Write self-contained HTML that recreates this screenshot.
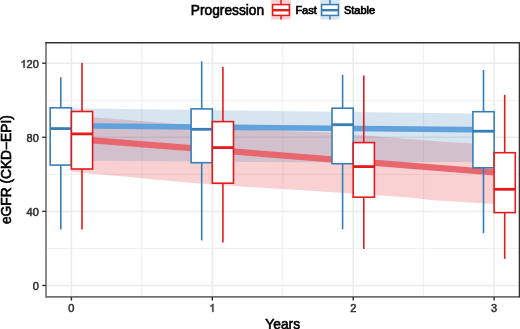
<!DOCTYPE html><html><head><meta charset="utf-8"><style>
html,body{margin:0;padding:0;background:#fff;width:520px;height:329px;overflow:hidden}
svg{display:block;filter:blur(0.3px)}
text{font-family:"Liberation Sans",sans-serif}
</style></head><body>
<svg width="520" height="329" viewBox="0 0 520 329">
<rect width="520" height="329" fill="#fff"/>
<g stroke="#ebebeb" fill="none">
<line x1="141.85" y1="42.8" x2="141.85" y2="296.9" stroke-width="0.8"/>
<line x1="282.75" y1="42.8" x2="282.75" y2="296.9" stroke-width="0.8"/>
<line x1="423.65" y1="42.8" x2="423.65" y2="296.9" stroke-width="0.8"/>
<line x1="46.0" y1="248.45" x2="519.4" y2="248.45" stroke-width="0.8"/>
<line x1="46.0" y1="174.35" x2="519.4" y2="174.35" stroke-width="0.8"/>
<line x1="46.0" y1="100.25" x2="519.4" y2="100.25" stroke-width="0.8"/>
<line x1="71.40" y1="42.8" x2="71.40" y2="296.9" stroke-width="1.5"/>
<line x1="212.30" y1="42.8" x2="212.30" y2="296.9" stroke-width="1.5"/>
<line x1="353.20" y1="42.8" x2="353.20" y2="296.9" stroke-width="1.5"/>
<line x1="494.10" y1="42.8" x2="494.10" y2="296.9" stroke-width="1.5"/>
<line x1="46.0" y1="285.50" x2="519.4" y2="285.50" stroke-width="1.5"/>
<line x1="46.0" y1="211.40" x2="519.4" y2="211.40" stroke-width="1.5"/>
<line x1="46.0" y1="137.30" x2="519.4" y2="137.30" stroke-width="1.5"/>
<line x1="46.0" y1="63.20" x2="519.4" y2="63.20" stroke-width="1.5"/>
</g>
<polygon points="71.40,116.20 95.00,117.50 125.00,119.70 190.00,125.00 235.00,128.70 290.00,131.00 330.00,132.60 374.00,136.30 440.00,141.40 472.00,143.40 494.10,144.90 494.10,204.00 470.00,202.60 430.00,200.00 412.00,197.80 380.00,195.50 330.00,191.90 290.00,189.60 240.00,186.40 190.00,182.70 93.00,173.80 71.40,171.80" fill="#E41A1C" fill-opacity="0.2"/>
<polygon points="71.40,108.30 494.10,113.80 494.10,162.00 455.00,162.00 330.00,162.60 256.00,162.00 190.00,161.60 93.00,160.80 71.40,160.50" fill="#377EB8" fill-opacity="0.2"/>
<polyline points="71.40,125.80 494.10,129.90" stroke="#62a2dc" stroke-width="5.6" fill="none"/>
<polyline points="71.40,138.70 494.10,172.30" stroke="#e8666e" stroke-width="6.2" fill="none"/>
<g stroke="#377EB8" fill="none">
<line x1="60.80" y1="77.3" x2="60.80" y2="107.8" stroke-width="1.6"/>
<line x1="60.80" y1="165.1" x2="60.80" y2="229.5" stroke-width="1.6"/>
<rect x="50.20" y="107.8" width="21.20" height="57.30" fill="#fff" stroke-width="1.6"/>
<line x1="50.20" y1="128.6" x2="71.40" y2="128.6" stroke-width="2.8"/>
</g>
<g stroke="#E41A1C" fill="none">
<line x1="82.00" y1="63.0" x2="82.00" y2="111.5" stroke-width="1.6"/>
<line x1="82.00" y1="169.0" x2="82.00" y2="229.5" stroke-width="1.6"/>
<rect x="71.40" y="111.5" width="21.20" height="57.50" fill="#fff" stroke-width="1.6"/>
<line x1="71.40" y1="133.9" x2="92.60" y2="133.9" stroke-width="2.8"/>
</g>
<g stroke="#377EB8" fill="none">
<line x1="201.70" y1="61.4" x2="201.70" y2="108.9" stroke-width="1.6"/>
<line x1="201.70" y1="162.7" x2="201.70" y2="240.4" stroke-width="1.6"/>
<rect x="191.10" y="108.9" width="21.20" height="53.80" fill="#fff" stroke-width="1.6"/>
<line x1="191.10" y1="129.3" x2="212.30" y2="129.3" stroke-width="2.8"/>
</g>
<g stroke="#E41A1C" fill="none">
<line x1="222.90" y1="67.1" x2="222.90" y2="121.6" stroke-width="1.6"/>
<line x1="222.90" y1="183.2" x2="222.90" y2="242.4" stroke-width="1.6"/>
<rect x="212.30" y="121.6" width="21.20" height="61.60" fill="#fff" stroke-width="1.6"/>
<line x1="212.30" y1="147.6" x2="233.50" y2="147.6" stroke-width="2.8"/>
</g>
<g stroke="#377EB8" fill="none">
<line x1="342.60" y1="74.8" x2="342.60" y2="108.2" stroke-width="1.6"/>
<line x1="342.60" y1="163.7" x2="342.60" y2="229.4" stroke-width="1.6"/>
<rect x="332.00" y="108.2" width="21.20" height="55.50" fill="#fff" stroke-width="1.6"/>
<line x1="332.00" y1="124.7" x2="353.20" y2="124.7" stroke-width="2.8"/>
</g>
<g stroke="#E41A1C" fill="none">
<line x1="363.80" y1="75.6" x2="363.80" y2="142.6" stroke-width="1.6"/>
<line x1="363.80" y1="197.2" x2="363.80" y2="248.9" stroke-width="1.6"/>
<rect x="353.20" y="142.6" width="21.20" height="54.60" fill="#fff" stroke-width="1.6"/>
<line x1="353.20" y1="166.6" x2="374.40" y2="166.6" stroke-width="2.8"/>
</g>
<g stroke="#377EB8" fill="none">
<line x1="483.50" y1="69.9" x2="483.50" y2="111.7" stroke-width="1.6"/>
<line x1="483.50" y1="167.8" x2="483.50" y2="233.3" stroke-width="1.6"/>
<rect x="472.90" y="111.7" width="21.20" height="56.10" fill="#fff" stroke-width="1.6"/>
<line x1="472.90" y1="131.2" x2="494.10" y2="131.2" stroke-width="2.8"/>
</g>
<g stroke="#E41A1C" fill="none">
<line x1="504.70" y1="94.8" x2="504.70" y2="152.7" stroke-width="1.6"/>
<line x1="504.70" y1="212.6" x2="504.70" y2="258.8" stroke-width="1.6"/>
<rect x="494.10" y="152.7" width="21.20" height="59.90" fill="#fff" stroke-width="1.6"/>
<line x1="494.10" y1="189.3" x2="515.30" y2="189.3" stroke-width="2.8"/>
</g>
<line x1="46.0" y1="296.9" x2="519.4" y2="296.9" stroke="#707070" stroke-width="1.6"/>
<line x1="46.0" y1="42.099999999999994" x2="46.0" y2="297.7" stroke="#6e6e6e" stroke-width="1.6"/>
<line x1="45.3" y1="42.8" x2="520.1" y2="42.8" stroke="#333" stroke-width="1.4"/>
<line x1="519.4" y1="42.8" x2="519.4" y2="297.59999999999997" stroke="#333" stroke-width="1.4"/>
<g stroke="#333" stroke-width="1.4">
<line x1="42.2" y1="285.50" x2="46.0" y2="285.50"/>
<line x1="42.2" y1="211.40" x2="46.0" y2="211.40"/>
<line x1="42.2" y1="137.30" x2="46.0" y2="137.30"/>
<line x1="42.2" y1="63.20" x2="46.0" y2="63.20"/>
<line x1="71.40" y1="296.9" x2="71.40" y2="300.6"/>
<line x1="212.30" y1="296.9" x2="212.30" y2="300.6"/>
<line x1="353.20" y1="296.9" x2="353.20" y2="300.6"/>
<line x1="494.10" y1="296.9" x2="494.10" y2="300.6"/>
</g>
<g fill="#333" font-size="11" stroke="#333" stroke-width="0.55">
<text x="38.8" y="290.10" text-anchor="end">0</text>
<text x="38.8" y="216.00" text-anchor="end">40</text>
<text x="38.8" y="141.90" text-anchor="end">80</text>
<path transform="translate(20.45,67.80) scale(0.005371,-0.005371)" d="M763 0H583V1147Q518 1085 412.5 1023T223 930V1104Q374 1175 487 1276T647 1472H763V0Z" stroke-width="102.4"/>
<text x="26.57" y="67.80">20</text>
<text x="71.40" y="311.8" text-anchor="middle">0</text>
<text x="353.20" y="311.8" text-anchor="middle">2</text>
<text x="494.10" y="311.8" text-anchor="middle">3</text>
<path transform="translate(209.24,311.80) scale(0.005371,-0.005371)" d="M763 0H583V1147Q518 1085 412.5 1023T223 930V1104Q374 1175 487 1276T647 1472H763V0Z" stroke-width="102.4"/>
</g>
<text x="282.7" y="328.7" text-anchor="middle" font-size="13.75" fill="#000" stroke="#000" stroke-width="0.6">Years</text>
<text transform="translate(10.6,169.65) rotate(-90)" text-anchor="middle" font-size="13.75" fill="#000" stroke="#000" stroke-width="0.6">eGFR (CKD−EPI)</text>
<text x="190.8" y="15.4" font-size="13.75" fill="#000" stroke="#000" stroke-width="0.6">Progression</text>
<rect x="271.2" y="0" width="19.6" height="19.5" fill="#E41A1C" fill-opacity="0.2"/><g stroke="#E41A1C" stroke-width="1.5"><line x1="281.0" y1="0" x2="281.0" y2="4.6"/><line x1="281.0" y1="15.4" x2="281.0" y2="19.5"/><rect x="272.59999999999997" y="4.6" width="16.8" height="10.8" fill="#fff"/><line x1="272.59999999999997" y1="10.2" x2="289.4" y2="10.2" stroke-width="2.4"/></g>
<text x="295.4" y="13.9" font-size="11" fill="#000" stroke="#000" stroke-width="0.7">Fast</text>
<rect x="320.2" y="0" width="19.6" height="19.5" fill="#377EB8" fill-opacity="0.2"/><g stroke="#377EB8" stroke-width="1.5"><line x1="330.0" y1="0" x2="330.0" y2="4.6"/><line x1="330.0" y1="15.4" x2="330.0" y2="19.5"/><rect x="321.59999999999997" y="4.6" width="16.8" height="10.8" fill="#fff"/><line x1="321.59999999999997" y1="10.2" x2="338.4" y2="10.2" stroke-width="2.4"/></g>
<text x="343.9" y="13.9" font-size="11" fill="#000" stroke="#000" stroke-width="0.7">Stable</text>
</svg></body></html>
